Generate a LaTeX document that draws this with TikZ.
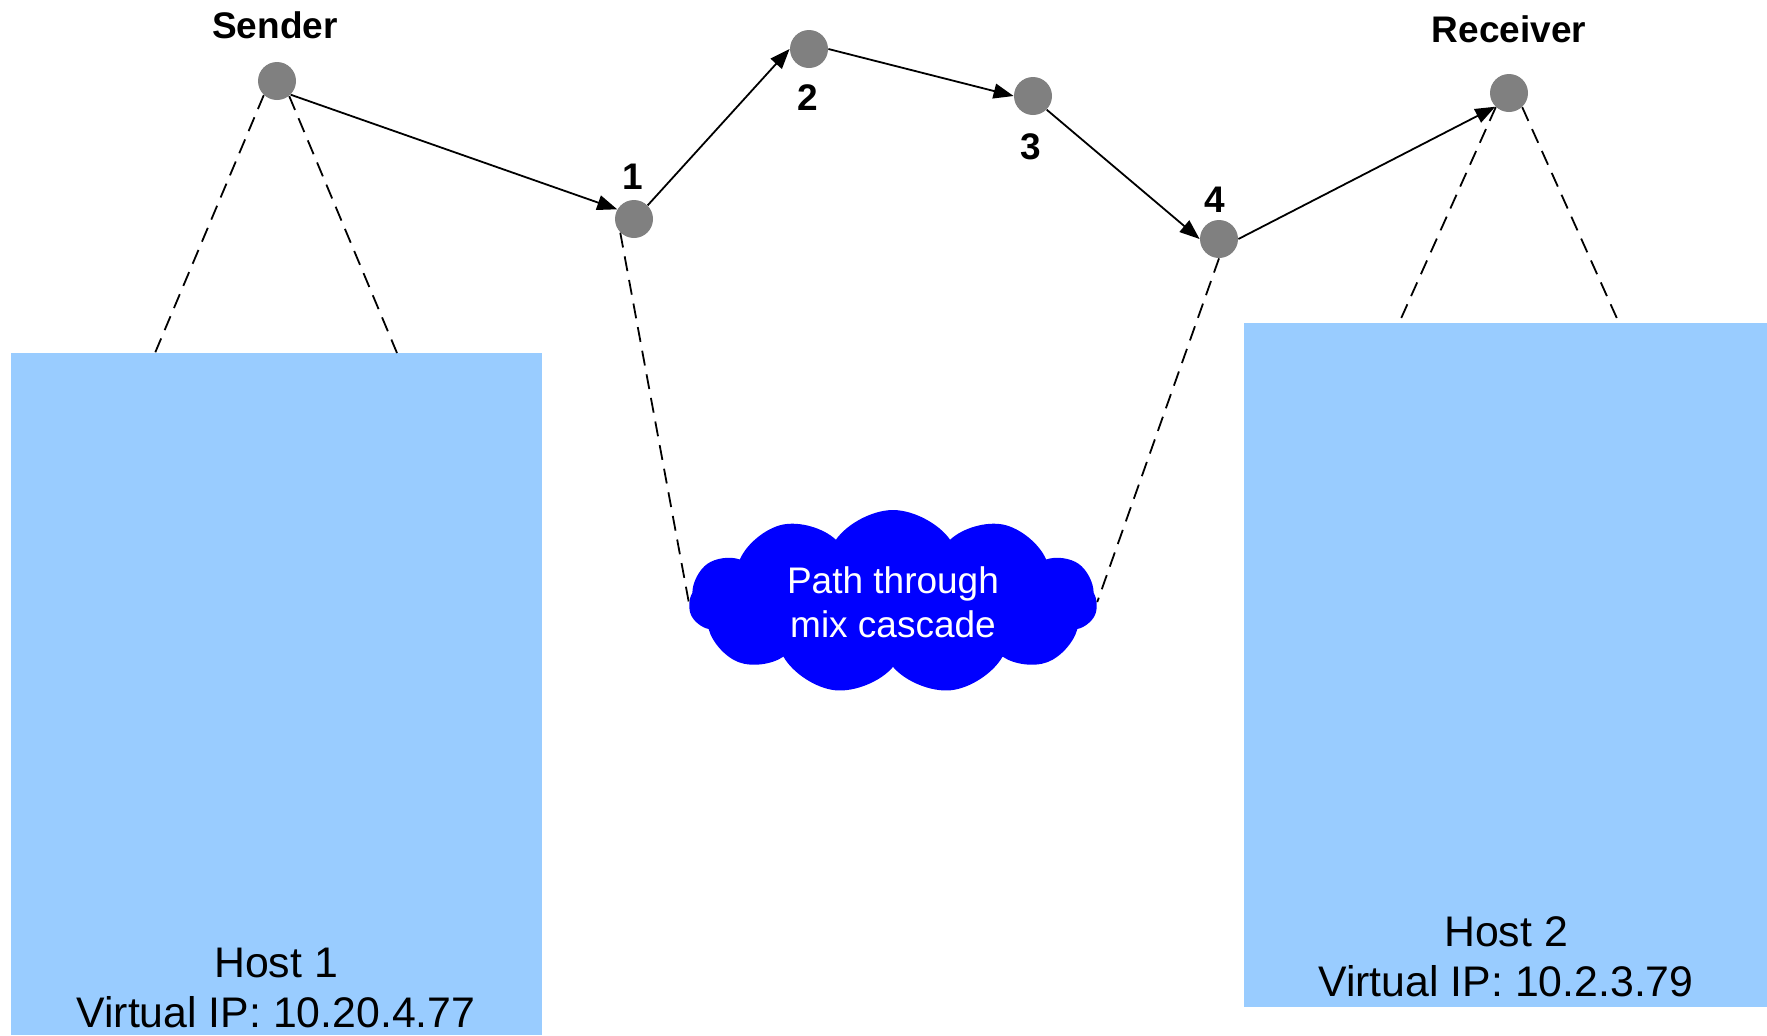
\documentclass[tikz,border=0pt]{standalone}
\usepackage{fontspec}
\setmainfont{Liberation Sans}
\usetikzlibrary{shapes.symbols,arrows.meta,positioning}
\definecolor{hostblue}{RGB}{153,204,255}
\definecolor{dotgray}{RGB}{128,128,128}

\begin{document}
\begin{tikzpicture}[x=0.5pt, y=-0.5pt,
      dot/.style={circle, fill=dotgray, minimum size=19pt, inner sep=0pt},
      lbl/.style={font=\fontsize{18.5}{22}\selectfont\bfseries, inner sep=0pt},
      host/.style={fill=hostblue, inner sep=0pt, anchor=north west},
      hosttxt/.style={align=center, font=\fontsize{21.4}{25}\selectfont, inner sep=0pt},
      mix/.style={cloud, cloud puffs=11, cloud puff arc=110, cloud ignores aspect, fill=blue, text=white,
                  minimum width=204pt, minimum height=92pt, align=center, font=\fontsize{18.5}{22}\selectfont, inner sep=0pt},
      arr/.style={-{Triangle[length=10pt, width=7.5pt]}, line width=0.9pt},
      link/.style={dash pattern=on 7.5pt off 4.5pt, line width=0.9pt}
    ]
    \useasboundingbox (0,0) rectangle (1767,1035);

    % the two machines
    \node[host, minimum width=265.5pt, minimum height=341pt] (host1) at (11,353) {};
    \node[host, minimum width=261.5pt, minimum height=342pt] (host2) at (1244,323) {};
    \node[hosttxt] (host1txt) at (276,988) {Host 1\\Virtual IP: 10.20.4.77};
    \node[hosttxt] (host2txt) at (1506,957) {Host 2\\Virtual IP: 10.2.3.79};

    % mix cascade
    \node[mix] (cascade) at (893,602) {Path through\\mix cascade};

    % end points and mixes
    \node[dot] (sender) at (277,81)   {};
    \node[dot] (mix1)   at (634,219)  {};
    \node[dot] (mix2)   at (809,49)   {};
    \node[dot] (mix3)   at (1033,96)  {};
    \node[dot] (mix4)   at (1219,239) {};
    \node[dot] (recv)   at (1509,93)  {};

    \node[lbl] (senderlbl) at (275,25)   {Sender};
    \node[lbl] (recvlbl)   at (1509,29)  {Receiver};
    \node[lbl] (mix1lbl)   at (633,177)  {1};
    \node[lbl] (mix2lbl)   at (808,98)   {2};
    \node[lbl] (mix3lbl)   at (1031,147) {3};
    \node[lbl] (mix4lbl)   at (1215,200) {4};

    % where the dashed lines meet the boxes
    \coordinate (h1l) at (155,353);
    \coordinate (h1r) at (397,353);
    \coordinate (h2l) at (1399,323);
    \coordinate (h2r) at (1619,323);

    \draw[link] (sender.-133) -- (h1l);
    \draw[link] (sender.-51)  -- (h1r);
    \draw[link] (recv.-133)   -- (h2l);
    \draw[link] (recv.-47)    -- (h2r);
    \draw[link] (mix1.-135)   -- (cascade.west);
    \draw[link] (mix4.south)  -- (cascade.east);

    % message route
    \draw[arr] (sender.-45) -- (mix1.150);
    \draw[arr] (mix1.45) -- (mix2.west);
    \draw[arr] (mix2.east) -- (mix3.west);
    \draw[arr] (mix3.-45) -- (mix4.west);
    \draw[arr] (mix4.east) -- (recv.-135);
  \end{tikzpicture}
\end{document}
